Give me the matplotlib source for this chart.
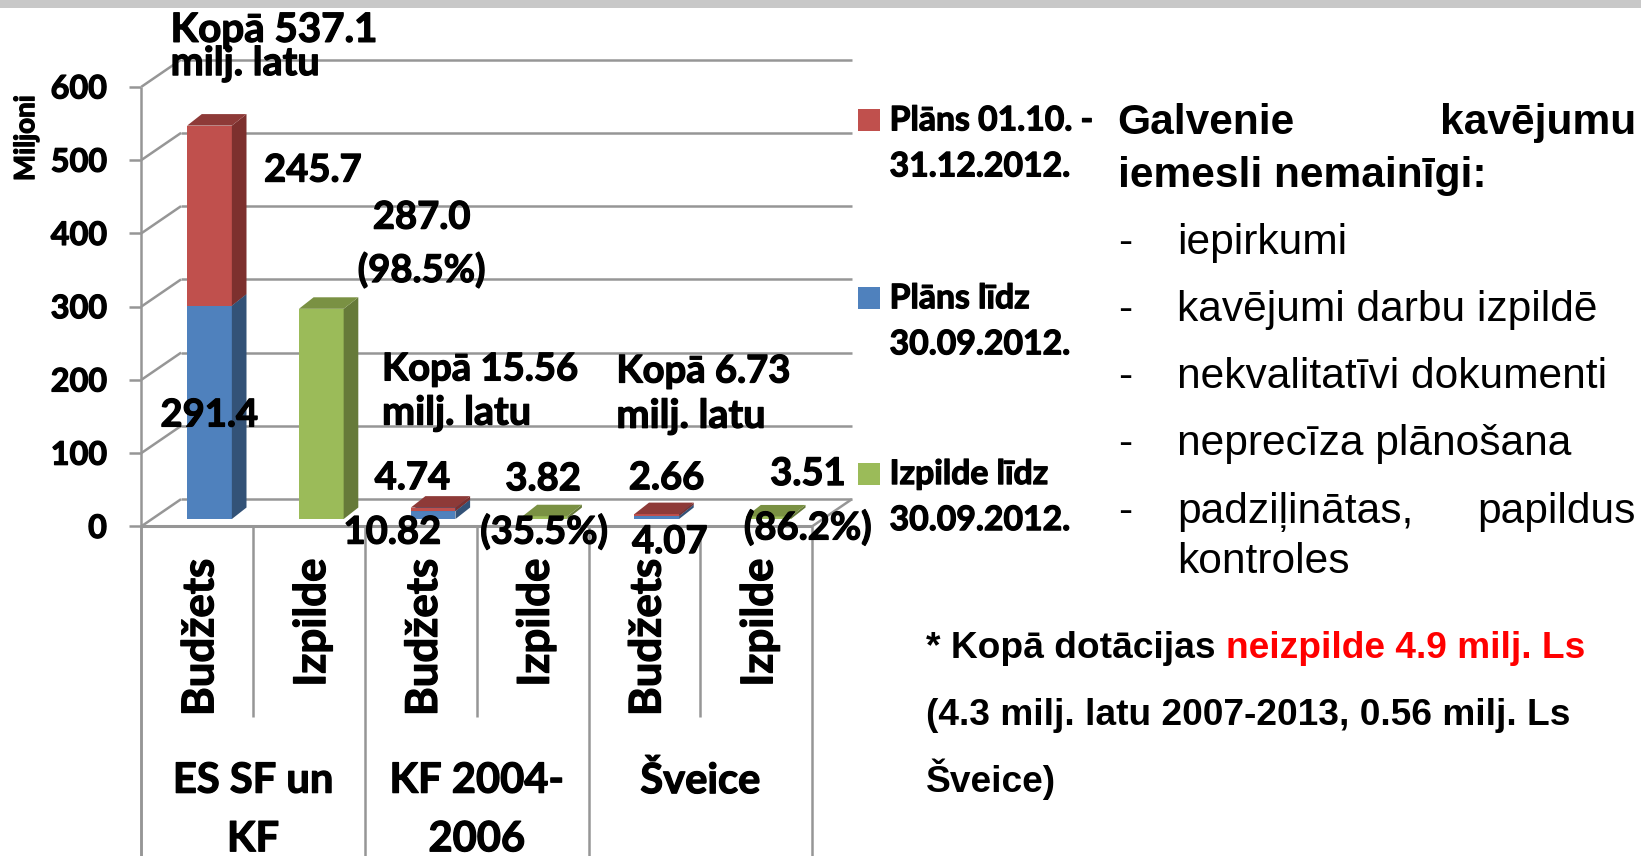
import matplotlib
matplotlib.use("Agg")
import matplotlib.pyplot as plt
import matplotlib.patheffects as pe
from matplotlib.patches import Polygon, Rectangle

# stacked values, million lats
groups = ["ES SF un\nKF", "KF 2004-\n2006", "Šveice"]
bar_labels = ["Budžets", "Izpilde", "Budžets", "Izpilde", "Budžets", "Izpilde"]
plan_to_sep = [291.4, 0, 10.82, 0, 4.07, 0]
plan_q4 = [245.7, 0, 4.74, 0, 2.66, 0]
done = [0, 287.0, 0, 3.82, 0, 3.51]
y_ticks = [0, 100, 200, 300, 400, 500, 600]

RED = ("#C0504D", "#7D302E", "#8E3A38")
BLUE = ("#4F81BD", "#335277", "#3B5F8C")
GREEN = ("#9BBB59", "#667A39", "#7A9143")
GRID = "#969696"
FONT = "Lato"
ARIAL = "Liberation Sans"

W, H = 1568.0, 818.0
fig = plt.figure(figsize=(16.41, 8.56), dpi=100)

# front plane of the fake 3d chart
x0, x1, y_base, y_top = 135, 776, 503, 83
ax = fig.add_axes([x0 / W, 1 - y_base / H, (x1 - x0) / W, (y_base - y_top) / H])
ax.set_xlim(0, 6)
ax.set_ylim(0, 600)
ax.axis("off")

# depth of the wall and of a bar, in data units
unit_x = (x1 - x0) / 6.0
unit_y = (y_base - y_top) / 600.0
wall_dx, wall_dy = 38 / unit_x, 26 / unit_y
bar_dx, bar_dy = 14 / unit_x, 11 / unit_y
base_dy = 7 / unit_y


def line(xs, ys, lw=1.8):
    ax.plot(xs, ys, color=GRID, lw=lw, clip_on=False, solid_capstyle="butt", zorder=1)


for t in y_ticks:
    line([-12 / unit_x, 0], [t, t])
    line([0, wall_dx], [t, t + wall_dy])
    line([wall_dx, 6 + wall_dx], [t + wall_dy, t + wall_dy])
line([0, 0], [-315 / unit_y, 600])
line([0, 6], [0, 0], lw=2.2)
line([6, 6 + wall_dx], [0, wall_dy])

# separators below the floor
for i in range(7):
    if i % 2 == 0:
        line([i, i], [-315 / unit_y, 0])
    else:
        line([i, i], [-182 / unit_y, 0])


def block(x, bottom, height, colors, z):
    w = 0.40
    left = x + 0.41
    ax.bar(left, height, width=w, bottom=bottom, align="edge", color=colors[0],
           linewidth=0, zorder=z, clip_on=False)
    right = left + w
    top = bottom + height
    ax.add_patch(Polygon([(right, bottom), (right + bar_dx, bottom + bar_dy),
                          (right + bar_dx, top + bar_dy), (right, top)],
                         closed=True, fc=colors[1], ec="none", zorder=z, clip_on=False))
    ax.add_patch(Polygon([(left, top), (left + bar_dx, top + bar_dy),
                          (right + bar_dx, top + bar_dy), (right, top)],
                         closed=True, fc=colors[2], ec="none", zorder=z + 0.1, clip_on=False))


for i in range(6):
    if done[i] > 0:
        block(i, base_dy, done[i], GREEN, 3)
    else:
        block(i, base_dy, plan_to_sep[i], BLUE, 3)
        block(i, base_dy + plan_to_sep[i], plan_q4[i], RED, 3.2)

# overlay in picture coordinates for all the text
ov = fig.add_axes([0, 0, 1, 1], facecolor="none")
ov.set_xlim(0, W)
ov.set_ylim(H, 0)
ov.axis("off")
ov.add_patch(Rectangle((0, 0), W, 8, fc="#C8C8C8", ec="none"))


def txt(x, y, s, size=28, ha="center", va="center", color="black", weight="bold", family=FONT, **kw):
    t = ov.text(x, y, s, fontsize=size, ha=ha, va=va, color=color,
                fontweight=weight, family=family, zorder=10, **kw)
    # Lato bold is lighter than the original font, thicken it a little
    if family == FONT:
        t.set_path_effects([pe.withStroke(linewidth=0.9, foreground=color)])


for t in y_ticks:
    txt(102, 505 - t * unit_y, str(t), size=23.3, ha="right")
txt(25, 132, "Miljoni", size=20, rotation=90)

# rotated labels share their top end, as in the original
for i, s in enumerate(bar_labels):
    txt(x0 + (i + 0.5) * unit_x + 3, 534, s, size=31.5, va="top", rotation=90)
for i, s in enumerate(groups):
    parts = s.split("\n")
    cx = x0 + (2 * i + 1) * unit_x
    txt(cx, 746, parts[0], size=30)
    if len(parts) > 1:
        txt(cx, 802, parts[1], size=30)

# data labels
txt(163, 29, "Kopā 537.1", size=29, ha="left")
txt(163, 61, "milj. latu", size=28.5, ha="left")
txt(299, 163, "245.7", size=27.5)
txt(403, 208, "287.0", size=27.5)
txt(403, 258, "(98.5%)", size=27.5)
txt(200, 397, "291.4", size=27.5)
txt(365, 353, "Kopā 15.56", size=27.5, ha="left")
txt(365, 395, "milj. latu", size=28.5, ha="left")
txt(589, 355, "Kopā 6.73", size=27.5, ha="left")
txt(589, 398, "milj. latu", size=28.5, ha="left")
txt(394, 457, "4.74", size=27.5)
txt(375, 509, "10.82", size=27.5)
txt(519, 458, "3.82", size=27.5)
txt(520, 508, "(35.5%)", size=27.5)
txt(637, 457, "2.66", size=27.5)
txt(640, 518, "4.07", size=27.5)
txt(772, 453, "3.51", size=27.5)
txt(772, 504, "(86.2%)", size=27.5)

# legend
legend_rows = [(RED[0], 114, "Plāns 01.10. -", "31.12.2012."),
               (BLUE[0], 284, "Plāns līdz", "30.09.2012."),
               (GREEN[0], 452, "Izpilde līdz", "30.09.2012.")]
for col, y, a, b in legend_rows:
    ov.add_patch(Rectangle((820, y - 10), 21, 21, fc=col, ec="none"))
    txt(850, y + 1, a, size=24.3, ha="left")
    txt(850, y + 45, b, size=24.3, ha="left")

# side notes
txt(1068, 118, "Galvenie", size=30.6, ha="left", family=ARIAL)
txt(1563, 118, "kavējumu", size=30.6, ha="right", family=ARIAL)
txt(1068, 168, "iemesli nemainīgi:", size=30.6, ha="left", family=ARIAL)
notes = [(232, "iepirkumi"), (296, "kavējumi darbu izpildē"),
         (360, "nekvalitatīvi dokumenti"), (424, "neprecīza plānošana")]
for y, s in notes:
    txt(1068, y, "-", size=30.6, ha="left", family=ARIAL, weight="normal")
    txt(1125, y, s, size=30.6, ha="left", family=ARIAL, weight="normal")
txt(1068, 489, "-", size=30.6, ha="left", family=ARIAL, weight="normal")
txt(1125, 489, "padziļinātas,", size=30.6, ha="left", family=ARIAL, weight="normal")
txt(1563, 489, "papildus", size=30.6, ha="right", family=ARIAL, weight="normal")
txt(1125, 537, "kontroles", size=30.6, ha="left", family=ARIAL, weight="normal")

txt(885, 620, "* Kopā dotācijas", size=26.7, ha="left", family=ARIAL)
txt(1171, 620, "neizpilde 4.9 milj. Ls", size=26.7, ha="left", family=ARIAL, color="#FF0000")
txt(885, 684, "(4.3 milj. latu 2007-2013, 0.56 milj. Ls", size=26.7, ha="left", family=ARIAL)
txt(885, 745, "Šveice)", size=26.7, ha="left", family=ARIAL)

fig.savefig("out.png", dpi=100)
